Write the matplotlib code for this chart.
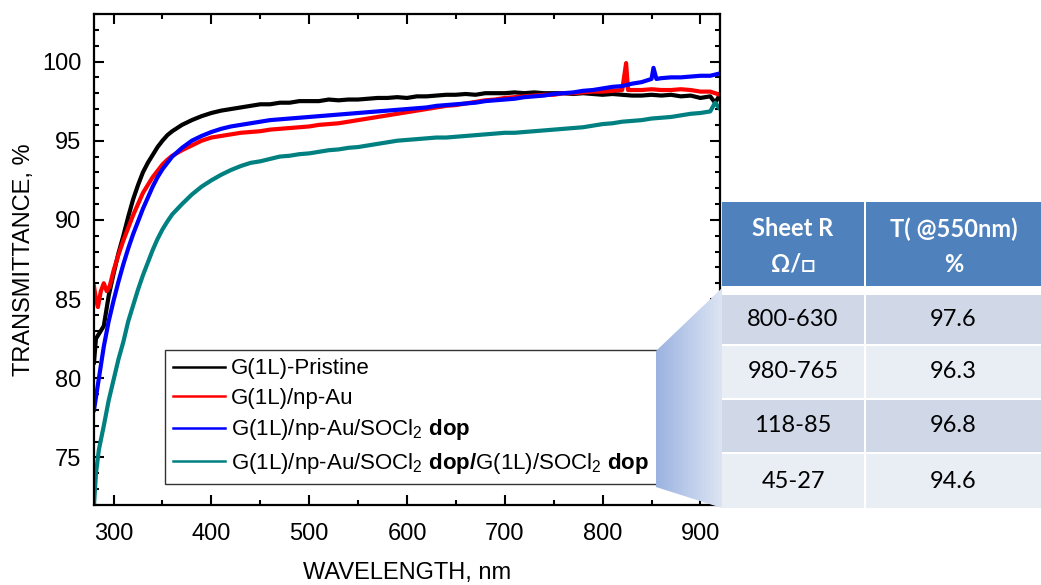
import numpy as np
import matplotlib
matplotlib.use("Agg")
import matplotlib.pyplot as plt
from matplotlib.lines import Line2D
from matplotlib.patches import Rectangle, Polygon
from matplotlib.ticker import MultipleLocator
from matplotlib.colors import LinearSegmentedColormap

plt.rcParams['font.family'] = ['Liberation Sans', 'DejaVu Sans']
plt.rcParams['mathtext.fontset'] = 'custom'
plt.rcParams['mathtext.rm'] = 'Liberation Sans'
plt.rcParams['mathtext.bf'] = 'Liberation Sans:bold'
plt.rcParams['mathtext.it'] = 'Liberation Sans:italic'

# ---------------- data ----------------
wl_black = [280, 282, 285, 290, 295, 300, 305, 310, 315, 320, 325, 330, 335, 340, 345, 350, 355, 360,
            370, 380, 390, 400, 410, 420, 430, 440, 450, 460, 470, 480, 490, 500, 510, 520, 530, 540,
            550, 560, 570, 580, 590, 600, 610, 620, 630, 640, 650, 660, 670, 680, 690, 700, 710, 720,
            730, 740, 750, 760, 770, 780, 790, 800, 810, 820, 830, 840, 850, 860, 870, 880, 890, 900,
            910, 915, 920]
t_black = [81.0, 82.5, 82.8, 83.3, 85.2, 86.6, 87.9, 89.0, 90.2, 91.3, 92.2, 93.0, 93.6, 94.1, 94.6,
           95.0, 95.35, 95.6, 96.0, 96.3, 96.55, 96.75, 96.9, 97.0, 97.1, 97.2, 97.3, 97.3, 97.4, 97.4,
           97.5, 97.5, 97.5, 97.6, 97.55, 97.6, 97.6, 97.65, 97.7, 97.7, 97.75, 97.7, 97.8, 97.8, 97.85,
           97.9, 97.9, 97.95, 97.9, 98.0, 98.0, 98.0, 98.05, 98.0, 98.05, 98.0, 98.0, 98.0, 97.95, 98.0,
           97.95, 97.9, 97.95, 97.9, 97.85, 97.85, 97.9, 97.85, 97.9, 97.8, 97.85, 97.7, 97.8, 97.4, 97.9]

wl_red = [280, 282, 284, 287, 290, 293, 296, 300, 305, 310, 315, 320, 325, 330, 335, 340, 345, 350, 355,
          360, 370, 380, 390, 400, 410, 420, 430, 440, 450, 460, 470, 480, 490, 500, 510, 520, 530, 540,
          550, 560, 570, 580, 590, 600, 610, 620, 630, 640, 650, 660, 670, 680, 690, 700, 710, 720, 730,
          740, 750, 760, 770, 780, 790, 800, 810, 820, 824, 826, 830, 840, 850, 860, 870, 880, 890, 900,
          910, 920]
t_red = [85.8, 85.0, 84.5, 85.5, 86.0, 85.5, 85.8, 86.8, 87.8, 88.7, 89.5, 90.3, 91.0, 91.7, 92.2, 92.7,
         93.1, 93.5, 93.8, 94.05, 94.4, 94.7, 95.0, 95.2, 95.3, 95.4, 95.5, 95.55, 95.6, 95.7, 95.75, 95.8,
         95.85, 95.9, 96.0, 96.05, 96.1, 96.2, 96.3, 96.4, 96.5, 96.6, 96.7, 96.8, 96.9, 97.0, 97.1,
         97.2, 97.25, 97.35, 97.45, 97.55, 97.6, 97.7, 97.75, 97.8, 97.85, 97.9, 97.9, 98.0, 98.0, 98.05,
         98.1, 98.1, 98.15, 98.2, 99.9, 98.2, 98.2, 98.2, 98.25, 98.2, 98.2, 98.25, 98.2, 98.1, 98.1, 97.9]

wl_blue = [280, 282, 285, 290, 295, 300, 305, 310, 315, 320, 325, 330, 335, 340, 345, 350, 355, 360,
           370, 380, 390, 400, 410, 420, 430, 440, 450, 460, 470, 480, 490, 500, 510, 520, 530, 540,
           550, 560, 570, 580, 590, 600, 610, 620, 630, 640, 650, 660, 670, 680, 690, 700, 710, 720,
           730, 740, 750, 760, 770, 780, 790, 800, 810, 820, 830, 840, 850, 852, 855, 860, 870, 880,
           890, 900, 910, 920]
t_blue = [78.0, 78.8, 80.0, 82.0, 83.6, 84.9, 86.1, 87.2, 88.2, 89.1, 89.9, 90.7, 91.4, 92.1, 92.7, 93.2,
          93.6, 94.0, 94.55, 95.0, 95.3, 95.55, 95.75, 95.9, 96.0, 96.1, 96.2, 96.3, 96.35, 96.4, 96.45,
          96.5, 96.55, 96.6, 96.65, 96.7, 96.75, 96.8, 96.85, 96.9, 96.95, 97.0, 97.05, 97.1, 97.2,
          97.25, 97.3, 97.35, 97.4, 97.5, 97.55, 97.6, 97.65, 97.75, 97.8, 97.85, 97.95, 98.0, 98.05,
          98.15, 98.2, 98.3, 98.4, 98.45, 98.6, 98.7, 98.9, 99.6, 98.9, 98.95, 99.0, 99.0, 99.05, 99.1,
          99.1, 99.25]

wl_teal = [280, 282, 285, 290, 295, 300, 305, 310, 315, 320, 325, 330, 335, 340, 345, 350, 355, 360,
           370, 380, 390, 400, 410, 420, 430, 440, 450, 460, 470, 480, 490, 500, 510, 520, 530, 540,
           550, 560, 570, 580, 590, 600, 610, 620, 630, 640, 650, 660, 670, 680, 690, 700, 710, 720,
           730, 740, 750, 760, 770, 780, 790, 800, 810, 820, 830, 840, 850, 860, 870, 880, 890, 900,
           910, 915, 920]
t_teal = [72.0, 74.0, 75.5, 77.0, 78.6, 79.9, 81.2, 82.3, 83.6, 84.6, 85.6, 86.5, 87.3, 88.1, 88.8, 89.4,
          89.9, 90.35, 91.0, 91.6, 92.1, 92.5, 92.85, 93.15, 93.4, 93.6, 93.7, 93.85, 94.0, 94.05, 94.15,
          94.2, 94.3, 94.4, 94.45, 94.55, 94.6, 94.7, 94.8, 94.9, 95.0, 95.05, 95.1, 95.15, 95.2, 95.2,
          95.25, 95.3, 95.35, 95.4, 95.45, 95.5, 95.5, 95.55, 95.6, 95.65, 95.7, 95.75, 95.8, 95.85,
          95.95, 96.05, 96.1, 96.2, 96.25, 96.3, 96.4, 96.45, 96.5, 96.6, 96.7, 96.75, 96.85, 97.4, 97.0]

series_labels = [
    'G(1L)-Pristine',
    'G(1L)/np-Au',
    r'G(1L)/np-Au/SOCl$_2$ $\mathbf{dop}$',
    r'G(1L)/np-Au/SOCl$_2$ $\mathbf{dop/}$G(1L)/SOCl$_2$ $\mathbf{dop}$',
]
series_colors = ['#000000', '#FF0000', '#0000FF', '#008080']

x_ticks = [300, 400, 500, 600, 700, 800, 900]
y_ticks = [75, 80, 85, 90, 95, 100]

table_header = [['Sheet R', '\u03A9/\u25A1'], ['T( @550nm)', '%']]
sheet_r = ['800-630', '980-765', '118-85', '45-27']
t_550 = ['97.6', '96.3', '96.8', '94.6']

# ---------------- figure ----------------
W, H = 1041, 585
fig = plt.figure(figsize=(W / 100, H / 100), dpi=100)
ax = fig.add_axes([94 / W, 1 - 505 / H, (720 - 94) / W, (505 - 14) / H])

series = [(wl_black, t_black), (wl_red, t_red), (wl_blue, t_blue), (wl_teal, t_teal)]
for (wl, tt), c in zip(series, series_colors):
    ax.plot(wl, tt, color=c, lw=3.0, solid_joinstyle='round')

ax.set_xlim(280, 920)
ax.set_ylim(72, 103)
ax.set_xticks(x_ticks)
ax.set_yticks(y_ticks)
ax.xaxis.set_minor_locator(MultipleLocator(50))
ax.yaxis.set_minor_locator(MultipleLocator(1))
ax.tick_params(which='both', direction='in', top=True, right=True, width=1.5, labelsize=17)
ax.tick_params(which='major', length=7)
ax.tick_params(axis='x', which='major', pad=13)
ax.tick_params(axis='y', which='major', pad=9)
ax.tick_params(which='minor', length=3.5)
for s in ax.spines.values():
    s.set_linewidth(1.6)
ax.set_xlabel('WAVELENGTH, nm', fontsize=17, labelpad=12)
ax.set_ylabel('TRANSMITTANCE, %', fontsize=17, labelpad=5)

handles = [Line2D([], [], color=c, lw=1.8) for c in series_colors]
leg = ax.legend(handles, series_labels, loc='upper left',
                bbox_to_anchor=(165 / W, 1 - 350 / H), bbox_transform=fig.transFigure,
                fontsize=16, frameon=True, fancybox=False, edgecolor='black',
                borderpad=0.38, handlelength=2.3, handletextpad=0.3, labelspacing=0.38,
                borderaxespad=0)
leg.get_frame().set_linewidth(1.0)

# ---------------- overlay: gradient + table ----------------
ov = fig.add_axes([0, 0, 1, 1], zorder=5)
ov.axis('off')
ov.patch.set_alpha(0)

poly = Polygon([(656, 351), (722, 288), (722, 508), (656, 487)], closed=True,
               facecolor='none', edgecolor='none')
ov.add_patch(poly)
grad = np.linspace(0, 1, 256).reshape(1, -1)
cmap = LinearSegmentedColormap.from_list('g', ['#9BB3E1', '#DDE5F3'])
im = ov.imshow(grad, cmap=cmap, extent=(656, 722, 508, 288), aspect='auto', zorder=1,
               interpolation='bilinear')
im.set_clip_path(poly)
ov.set_xlim(0, W)
ov.set_ylim(H, 0)

c1x0, c1x1 = 722, 864
c2x0, c2x1 = 866, 1041
ov.add_patch(Rectangle((c1x0, 202), c1x1 - c1x0, 84, facecolor='#4F81BD', edgecolor='none', zorder=2))
ov.add_patch(Rectangle((c2x0, 202), c2x1 - c2x0, 84, facecolor='#4F81BD', edgecolor='none', zorder=2))
row_y = [(295, 344), (346, 398), (400, 452), (454, 508)]
row_col = ['#D0D8E8', '#E9EDF4', '#D0D8E8', '#E9EDF4']
for (y0, y1), rc, a, b in zip(row_y, row_col, sheet_r, t_550):
    ov.add_patch(Rectangle((c1x0, y0), c1x1 - c1x0, y1 - y0, facecolor=rc, edgecolor='none', zorder=2))
    ov.add_patch(Rectangle((c2x0, y0), c2x1 - c2x0, y1 - y0, facecolor=rc, edgecolor='none', zorder=2))
    ym = (y0 + y1) / 2
    ov.text((c1x0 + c1x1) / 2, ym, a, ha='center', va='center', fontsize=17,
            family=['Lato', 'DejaVu Sans'], color='black', zorder=3)
    ov.text((c2x0 + c2x1) / 2, ym, b, ha='center', va='center', fontsize=17,
            family=['Lato', 'DejaVu Sans'], color='black', zorder=3)

for (l1, l2), cx in zip(table_header, [(c1x0 + c1x1) / 2, (c2x0 + c2x1) / 2]):
    ov.text(cx, 229, l1, ha='center', va='center', fontsize=17, fontweight='bold',
            family=['Lato', 'DejaVu Sans'], color='white', zorder=3)
    ov.text(cx, 264, l2, ha='center', va='center', fontsize=17, fontweight='bold',
            family=['Lato', 'DejaVu Sans'], color='white', zorder=3)

fig.savefig('out.png', dpi=100)
